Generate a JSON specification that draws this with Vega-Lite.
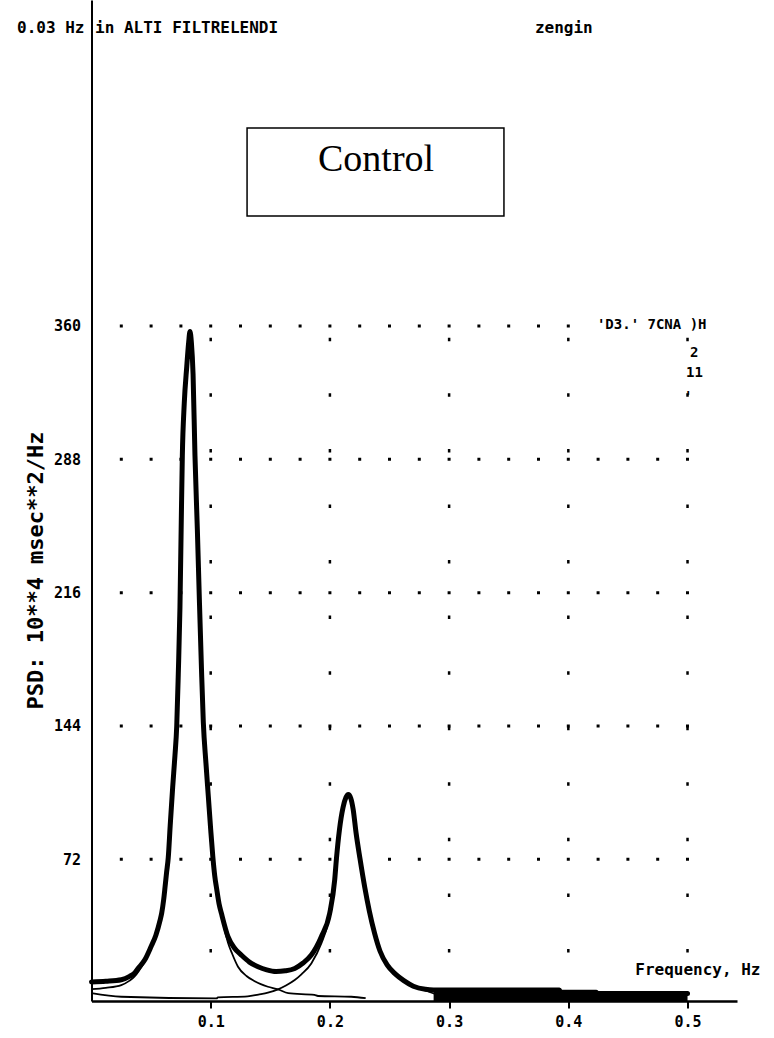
{
  "$schema": "https://vega.github.io/schema/vega-lite/v6.json",
  "width": 645.5,
  "height": 1001,
  "autosize": {"type": "none"},
  "padding": {"left": 91.5, "top": 0, "right": 37, "bottom": 37},
  "background": "white",
  "config": {
    "view": {"stroke": null},
    "axis": {
      "grid": false,
      "domainColor": "black",
      "tickColor": "black",
      "labelColor": "black",
      "titleColor": "black",
      "labelFont": "DejaVu Sans Mono",
      "labelFontWeight": "bold",
      "labelFontSize": 15,
      "titleFont": "DejaVu Sans Mono",
      "titleFontWeight": "bold"
    }
  },
  "datasets": {
    "psd": [
      {"series": "Total", "f": 0, "psd": 5.8},
      {"series": "Total", "f": 0.012, "psd": 6.2},
      {"series": "Total", "f": 0.025, "psd": 7},
      {"series": "Total", "f": 0.032, "psd": 8.8},
      {"series": "Total", "f": 0.036, "psd": 10.5},
      {"series": "Total", "f": 0.039, "psd": 13},
      {"series": "Total", "f": 0.0446, "psd": 17.6},
      {"series": "Total", "f": 0.0499, "psd": 24.8},
      {"series": "Total", "f": 0.054, "psd": 31},
      {"series": "Total", "f": 0.0575, "psd": 39},
      {"series": "Total", "f": 0.0589, "psd": 43},
      {"series": "Total", "f": 0.0605, "psd": 50},
      {"series": "Total", "f": 0.0617, "psd": 57},
      {"series": "Total", "f": 0.063, "psd": 65},
      {"series": "Total", "f": 0.0644, "psd": 73},
      {"series": "Total", "f": 0.066, "psd": 90},
      {"series": "Total", "f": 0.0681, "psd": 111},
      {"series": "Total", "f": 0.07, "psd": 128},
      {"series": "Total", "f": 0.0715, "psd": 144},
      {"series": "Total", "f": 0.0728, "psd": 172},
      {"series": "Total", "f": 0.0742, "psd": 208},
      {"series": "Total", "f": 0.0752, "psd": 250},
      {"series": "Total", "f": 0.0762, "psd": 290},
      {"series": "Total", "f": 0.0778, "psd": 318},
      {"series": "Total", "f": 0.0799, "psd": 338},
      {"series": "Total", "f": 0.0815, "psd": 351},
      {"series": "Total", "f": 0.0826, "psd": 357},
      {"series": "Total", "f": 0.0838, "psd": 351},
      {"series": "Total", "f": 0.0852, "psd": 334},
      {"series": "Total", "f": 0.0868, "psd": 290},
      {"series": "Total", "f": 0.0888, "psd": 250},
      {"series": "Total", "f": 0.0905, "psd": 212},
      {"series": "Total", "f": 0.0922, "psd": 176},
      {"series": "Total", "f": 0.0938, "psd": 146},
      {"series": "Total", "f": 0.096, "psd": 124},
      {"series": "Total", "f": 0.098, "psd": 106},
      {"series": "Total", "f": 0.1, "psd": 88},
      {"series": "Total", "f": 0.1017, "psd": 74},
      {"series": "Total", "f": 0.1034, "psd": 63},
      {"series": "Total", "f": 0.105, "psd": 56},
      {"series": "Total", "f": 0.107, "psd": 48},
      {"series": "Total", "f": 0.109, "psd": 42.8},
      {"series": "Total", "f": 0.1145, "psd": 30.2},
      {"series": "Total", "f": 0.12, "psd": 24},
      {"series": "Total", "f": 0.1257, "psd": 20.3},
      {"series": "Total", "f": 0.1325, "psd": 16.5},
      {"series": "Total", "f": 0.1397, "psd": 14},
      {"series": "Total", "f": 0.147, "psd": 12.3},
      {"series": "Total", "f": 0.1548, "psd": 11.4},
      {"series": "Total", "f": 0.1625, "psd": 11.8},
      {"series": "Total", "f": 0.1705, "psd": 13.1},
      {"series": "Total", "f": 0.1775, "psd": 16},
      {"series": "Total", "f": 0.1844, "psd": 20.3},
      {"series": "Total", "f": 0.1928, "psd": 30.2},
      {"series": "Total", "f": 0.1998, "psd": 42.8},
      {"series": "Total", "f": 0.204, "psd": 60.8},
      {"series": "Total", "f": 0.2055, "psd": 72.5},
      {"series": "Total", "f": 0.208, "psd": 88},
      {"series": "Total", "f": 0.211, "psd": 100},
      {"series": "Total", "f": 0.2135, "psd": 105.5},
      {"series": "Total", "f": 0.2154, "psd": 107},
      {"series": "Total", "f": 0.2175, "psd": 105},
      {"series": "Total", "f": 0.2195, "psd": 99},
      {"series": "Total", "f": 0.222, "psd": 86},
      {"series": "Total", "f": 0.2252, "psd": 72.5},
      {"series": "Total", "f": 0.2292, "psd": 57},
      {"series": "Total", "f": 0.2331, "psd": 44},
      {"series": "Total", "f": 0.2375, "psd": 32},
      {"series": "Total", "f": 0.242, "psd": 22.5},
      {"series": "Total", "f": 0.248, "psd": 15},
      {"series": "Total", "f": 0.255, "psd": 10},
      {"series": "Total", "f": 0.262, "psd": 6.5},
      {"series": "Total", "f": 0.27, "psd": 3.5},
      {"series": "Total", "f": 0.28, "psd": 1.8},
      {"series": "Total", "f": 0.287, "psd": 1.4},
      {"series": "Total", "f": 0.3925, "psd": 1.4},
      {"series": "Total", "f": 0.3935, "psd": 0.2},
      {"series": "Total", "f": 0.4235, "psd": 0.2},
      {"series": "Total", "f": 0.4245, "psd": -0.4},
      {"series": "Total", "f": 0.5, "psd": -0.4},
      {"series": "LF", "f": 0, "psd": 1.9},
      {"series": "LF", "f": 0.012, "psd": 2.6},
      {"series": "LF", "f": 0.025, "psd": 4.1},
      {"series": "LF", "f": 0.032, "psd": 6.5},
      {"series": "LF", "f": 0.036, "psd": 8.6},
      {"series": "LF", "f": 0.04, "psd": 12},
      {"series": "LF", "f": 0.0446, "psd": 16.8},
      {"series": "LF", "f": 0.0499, "psd": 24.5},
      {"series": "LF", "f": 0.054, "psd": 31},
      {"series": "LF", "f": 0.0575, "psd": 39},
      {"series": "LF", "f": 0.0605, "psd": 50},
      {"series": "LF", "f": 0.063, "psd": 65},
      {"series": "LF", "f": 0.066, "psd": 90},
      {"series": "LF", "f": 0.07, "psd": 128},
      {"series": "LF", "f": 0.0715, "psd": 144},
      {"series": "LF", "f": 0.0742, "psd": 208},
      {"series": "LF", "f": 0.0762, "psd": 290},
      {"series": "LF", "f": 0.0799, "psd": 338},
      {"series": "LF", "f": 0.0826, "psd": 356},
      {"series": "LF", "f": 0.0852, "psd": 334},
      {"series": "LF", "f": 0.0868, "psd": 290},
      {"series": "LF", "f": 0.0905, "psd": 212},
      {"series": "LF", "f": 0.0938, "psd": 146},
      {"series": "LF", "f": 0.098, "psd": 106},
      {"series": "LF", "f": 0.1017, "psd": 74},
      {"series": "LF", "f": 0.105, "psd": 56},
      {"series": "LF", "f": 0.109, "psd": 42},
      {"series": "LF", "f": 0.1145, "psd": 27},
      {"series": "LF", "f": 0.118, "psd": 21},
      {"series": "LF", "f": 0.1229, "psd": 14},
      {"series": "LF", "f": 0.13, "psd": 9},
      {"series": "LF", "f": 0.1369, "psd": 6.2},
      {"series": "LF", "f": 0.142, "psd": 4.6},
      {"series": "LF", "f": 0.148, "psd": 3.2},
      {"series": "LF", "f": 0.1565, "psd": 1.8},
      {"series": "LF", "f": 0.165, "psd": -0.3},
      {"series": "LF", "f": 0.187, "psd": -1.2},
      {"series": "LF", "f": 0.19, "psd": -1.8},
      {"series": "LF", "f": 0.218, "psd": -2.2},
      {"series": "LF", "f": 0.23, "psd": -3},
      {"series": "HF", "f": 0, "psd": -0.3},
      {"series": "HF", "f": 0.025, "psd": -2.2},
      {"series": "HF", "f": 0.105, "psd": -3.1},
      {"series": "HF", "f": 0.106, "psd": -2.5},
      {"series": "HF", "f": 0.131, "psd": -2},
      {"series": "HF", "f": 0.14, "psd": -1},
      {"series": "HF", "f": 0.148, "psd": 0},
      {"series": "HF", "f": 0.1565, "psd": 1.8},
      {"series": "HF", "f": 0.1635, "psd": 4},
      {"series": "HF", "f": 0.1705, "psd": 6.8},
      {"series": "HF", "f": 0.1763, "psd": 10},
      {"series": "HF", "f": 0.1844, "psd": 15.8},
      {"series": "HF", "f": 0.1928, "psd": 26.6},
      {"series": "HF", "f": 0.1984, "psd": 37.4},
      {"series": "HF", "f": 0.2025, "psd": 52},
      {"series": "HF", "f": 0.2055, "psd": 72.5},
      {"series": "HF", "f": 0.208, "psd": 88},
      {"series": "HF", "f": 0.211, "psd": 100},
      {"series": "HF", "f": 0.2154, "psd": 107},
      {"series": "HF", "f": 0.2195, "psd": 99},
      {"series": "HF", "f": 0.2252, "psd": 72.5},
      {"series": "HF", "f": 0.2331, "psd": 44},
      {"series": "HF", "f": 0.242, "psd": 22.5},
      {"series": "HF", "f": 0.255, "psd": 10},
      {"series": "HF", "f": 0.27, "psd": 3.5},
      {"series": "HF", "f": 0.28, "psd": 1.2},
      {"series": "HF", "f": 0.29, "psd": -1},
      {"series": "HF", "f": 0.3, "psd": -2}
    ],
    "band": [
      {"f": 0.287, "psd": 1.4},
      {"f": 0.393, "psd": 0.2},
      {"f": 0.424, "psd": -0.4},
      {"f": 0.5, "psd": -0.4}
    ],
    "gridRows": [
      {"psd": 72, "f": 0, "f2": 0.5015},
      {"psd": 144, "f": 0, "f2": 0.5015},
      {"psd": 216, "f": 0, "f2": 0.5015},
      {"psd": 288, "f": 0, "f2": 0.5015},
      {"psd": 360, "f": 0, "f2": 0.4015}
    ],
    "gridCols": [
      {"f": 0.1, "psd": 353.6, "psd2": 20},
      {"f": 0.2, "psd": 353.6, "psd2": 20},
      {"f": 0.3, "psd": 353.6, "psd2": 20},
      {"f": 0.4, "psd": 353.6, "psd2": 20},
      {"f": 0.5, "psd": 353.6, "psd2": 20}
    ]
  },
  "encoding": {
    "x": {
      "field": "f",
      "type": "quantitative",
      "scale": {"domain": [0, 0.5415], "nice": false, "zero": false},
      "axis": {
        "values": [0.1, 0.2, 0.3, 0.4, 0.5],
        "format": ".1f",
        "domainWidth": 2.5,
        "tickWidth": 2,
        "tickSize": 7,
        "labelPadding": 6,
        "labelFlush": false,
        "title": "Frequency, Hz",
        "titleFontSize": 16,
        "titleX": 668.5,
        "titleY": -32,
        "titleAlign": "right",
        "titleBaseline": "middle",
        "titleAngle": 0
      }
    },
    "y": {
      "field": "psd",
      "type": "quantitative",
      "scale": {"domain": [-4.5, 536], "nice": false, "zero": false},
      "axis": {
        "values": [72, 144, 216, 288, 360],
        "format": "d",
        "domainWidth": 2,
        "ticks": false,
        "labelPadding": 11,
        "title": "PSD: 10**4 msec**2/Hz",
        "titleFontSize": 22,
        "titleX": -56,
        "titleY": 570,
        "titleAlign": "center",
        "titleBaseline": "middle",
        "titleAngle": -90
      }
    }
  },
  "layer": [
    {
      "data": {"name": "gridRows"},
      "mark": {"type": "rule", "color": "black", "strokeWidth": 3, "strokeDash": [3, 26.8], "strokeDashOffset": 1.5},
      "encoding": {"x2": {"field": "f2"}}
    },
    {
      "data": {"name": "gridCols"},
      "mark": {"type": "rule", "color": "black", "strokeWidth": 2.5, "strokeDash": [3.5, 52.06]},
      "encoding": {"y2": {"field": "psd2"}}
    },
    {
      "data": {"name": "band"},
      "mark": {"type": "area", "interpolate": "step-after", "color": "black"},
      "encoding": {"y2": {"datum": -4.5}}
    },
    {
      "data": {"name": "psd"},
      "transform": [{"filter": "datum.series !== 'Total'"}],
      "mark": {"type": "line", "color": "black", "strokeWidth": 1.8, "strokeJoin": "round", "interpolate": "monotone"},
      "encoding": {"detail": {"field": "series"}}
    },
    {
      "data": {"name": "psd"},
      "transform": [{"filter": "datum.series === 'Total'"}],
      "mark": {"type": "line", "color": "black", "strokeWidth": 5, "strokeJoin": "round", "strokeCap": "round", "interpolate": "monotone"},
      "encoding": {}
    },
    {
      "data": {"values": [{"f": 0.1305, "f2": 0.346, "psd": 419.4, "psd2": 466.9}]},
      "mark": {"type": "rect", "fill": "white", "stroke": "black", "strokeWidth": 1.5},
      "encoding": {"x2": {"field": "f2"}, "y2": {"field": "psd2"}}
    },
    {
      "data": {"values": [{"label": "Control", "f": 0.2387, "psd": 449.6}]},
      "mark": {"type": "text", "font": "Liberation Serif", "fontSize": 38, "align": "center", "baseline": "middle", "color": "black"},
      "encoding": {"text": {"field": "label"}}
    },
    {
      "data": {"values": [
        {"label": "0.03 Hz", "f": -0.0625, "psd": 521},
        {"label": "in ALTI FILTRELENDI", "f": 0.003, "psd": 521},
        {"label": "zengin", "f": 0.372, "psd": 521}
      ]},
      "mark": {"type": "text", "font": "DejaVu Sans Mono", "fontWeight": "bold", "fontSize": 16, "align": "left", "baseline": "middle", "color": "black"},
      "encoding": {"text": {"field": "label"}}
    },
    {
      "data": {"values": [
        {"label": "'D3.' 7CNA )H", "f": 0.424, "psd": 360.5},
        {"label": "2", "f": 0.5021, "psd": 345.4},
        {"label": "11", "f": 0.4988, "psd": 334.7},
        {"label": "'", "f": 0.497, "psd": 321.6}
      ]},
      "mark": {"type": "text", "font": "DejaVu Sans Mono", "fontWeight": "bold", "fontSize": 14, "align": "left", "baseline": "middle", "color": "black"},
      "encoding": {"text": {"field": "label"}}
    }
  ]
}
